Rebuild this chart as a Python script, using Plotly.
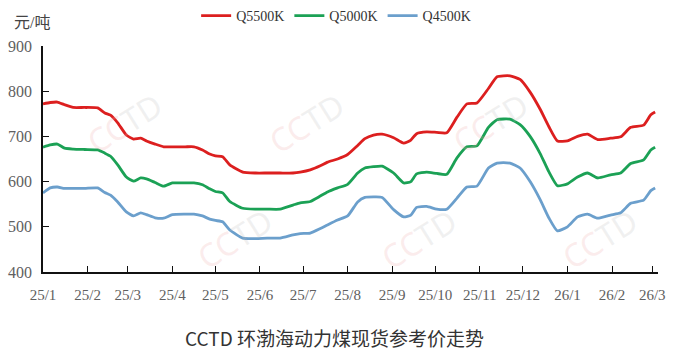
import plotly.graph_objects as go

dates = [
    "2025-01-01", "2025-01-06", "2025-01-11", "2025-01-16", "2025-01-22", "2025-01-30",
    "2025-02-08", "2025-02-13", "2025-02-17", "2025-02-22", "2025-02-28",
    "2025-03-05", "2025-03-10", "2025-03-14", "2025-03-20", "2025-03-26",
    "2025-04-01", "2025-04-10", "2025-04-16", "2025-04-22", "2025-04-27",
    "2025-05-01", "2025-05-06", "2025-05-11", "2025-05-20", "2025-05-29",
    "2025-06-06", "2025-06-15", "2025-06-24", "2025-06-29",
    "2025-07-06", "2025-07-13", "2025-07-18", "2025-07-25",
    "2025-08-01", "2025-08-08", "2025-08-13", "2025-08-19", "2025-08-25",
    "2025-09-02", "2025-09-09", "2025-09-14", "2025-09-18", "2025-09-25",
    "2025-10-02", "2025-10-09", "2025-10-16", "2025-10-23", "2025-10-30",
    "2025-11-07", "2025-11-13", "2025-11-22", "2025-11-29",
    "2025-12-06", "2025-12-13", "2025-12-19", "2025-12-25",
    "2026-01-01", "2026-01-08", "2026-01-15", "2026-01-22", "2026-01-31",
    "2026-02-07", "2026-02-14", "2026-02-23", "2026-02-28", "2026-03-03",
]

q5500 = [772, 775, 776, 770, 764, 764, 763, 752, 747, 730,
         703, 694, 696, 690, 683, 677, 677, 677, 677, 670,
         661, 657, 655, 637, 621, 619, 619, 619, 619, 621,
         626, 635, 643, 650, 660, 680, 695, 703, 705, 697,
         685, 692, 706, 710, 709, 708, 742, 772, 774, 806,
         832, 834, 826, 798, 760, 722, 690, 690, 700, 705,
         693, 696, 699, 720, 725, 748, 754]

q5000 = [676, 681, 683, 674, 672, 671, 670, 663, 656, 637,
         610, 601, 608, 606, 598, 590, 597, 597, 597, 593,
         584, 578, 575, 556, 541, 539, 539, 539, 548, 553,
         556, 568, 577, 586, 594, 619, 630, 633, 634, 619,
         597, 600, 617, 621, 618, 616, 652, 677, 679, 720,
         737, 738, 726, 700, 662, 622, 591, 595, 610, 619,
         608, 615, 619, 640, 648, 670, 676]

q4500 = [575, 586, 588, 585, 585, 585, 586, 576, 570, 555,
         533, 524, 531, 527, 520, 519, 527, 528, 528, 524,
         517, 514, 511, 493, 475, 474, 475, 475, 482, 485,
         486, 496, 504, 515, 524, 555, 565, 566, 565, 538,
         522, 526, 543, 545, 539, 539, 563, 588, 590, 630,
         641, 641, 630, 600, 560, 520, 491, 500, 522, 528,
         519, 526, 531, 552, 559, 580, 586]

series_names = ["Q5500K", "Q5000K", "Q4500K"]
series_values = [q5500, q5000, q4500]
series_colors = ["#dc1f1f", "#1ba155", "#6b9fcc"]

tick_dates = ["2025-01-01", "2025-02-01", "2025-03-01", "2025-04-01", "2025-05-01",
              "2025-06-01", "2025-07-01", "2025-08-01", "2025-09-01", "2025-10-01",
              "2025-11-01", "2025-12-01", "2026-01-01", "2026-02-01", "2026-03-01"]
tick_labels = ["25/1", "25/2", "25/3", "25/4", "25/5", "25/6", "25/7", "25/8",
               "25/9", "25/10", "25/11", "25/12", "26/1", "26/2", "26/3"]

# faint watermark tile centres (paper fractions), interior ones only
wm_x = [0.133, 0.429, 0.727, 0.311, 0.611, 0.905]
wm_y = [0.66, 0.66, 0.66, 0.15, 0.15, 0.15]

fig = go.Figure()
for name, vals, col in zip(series_names, series_values, series_colors):
    fig.add_trace(go.Scatter(
        x=dates, y=vals, name=name, mode="lines",
        line=dict(color=col, width=2.8, shape="spline", smoothing=0.5),
    ))

serif = "Liberation Serif, Noto Sans CJK SC, serif"

fig.update_layout(
    width=674, height=354,
    margin=dict(l=43, r=16, t=46, b=82, autoexpand=False),
    paper_bgcolor="white", plot_bgcolor="white",
    showlegend=True,
    legend=dict(
        orientation="h", x=0.249, xanchor="left", y=1.133, yanchor="middle",
        font=dict(family=serif, size=14, color="#333333"),
        bgcolor="rgba(0,0,0,0)", itemwidth=30, tracegroupgap=0,
    ),
    xaxis=dict(
        type="date", range=["2025-01-01", "2026-03-05"],
        tickmode="array", tickvals=tick_dates, ticktext=tick_labels,
        showline=True, linecolor="#111111", linewidth=1.5,
        ticks="inside", ticklen=6, tickcolor="#111111", tickwidth=1,
        showgrid=False, zeroline=False, ticklabelstandoff=8,
        tickfont=dict(family=serif, size=15, color="#606060"),
    ),
    yaxis=dict(
        range=[400, 900], dtick=100, tick0=400,
        showline=True, linecolor="#111111", linewidth=1.5,
        ticks="inside", ticklen=6, tickcolor="#111111", tickwidth=1,
        showgrid=False, zeroline=False, ticklabelstandoff=6,
        tickfont=dict(family=serif, size=16, color="#606060"),
    ),
)

for wx, wy in zip(wm_x, wm_y):
    fig.add_annotation(
        text="<span style='color:rgba(238,170,170,0.22)'>CC</span>"
             "<span style='color:rgba(190,190,190,0.22)'>TD</span>",
        xref="paper", yref="paper", x=wx, y=wy, xanchor="center", yanchor="middle",
        showarrow=False, textangle=-32,
        font=dict(family="Noto Sans, sans-serif", size=32),
    )

fig.add_annotation(
    text="元/吨", xref="paper", yref="paper", x=-0.018, y=1.106,
    xanchor="center", yanchor="middle", showarrow=False,
    font=dict(family=serif, size=16, color="#444444"),
)
fig.add_annotation(
    text="CCTD 环渤海动力煤现货参考价走势", xref="paper", yref="paper",
    x=0.474, y=-0.288, xanchor="center", yanchor="middle", showarrow=False,
    font=dict(family="Noto Sans CJK SC, sans-serif", size=19, color="#333333"),
)

fig.write_html("out.html")
